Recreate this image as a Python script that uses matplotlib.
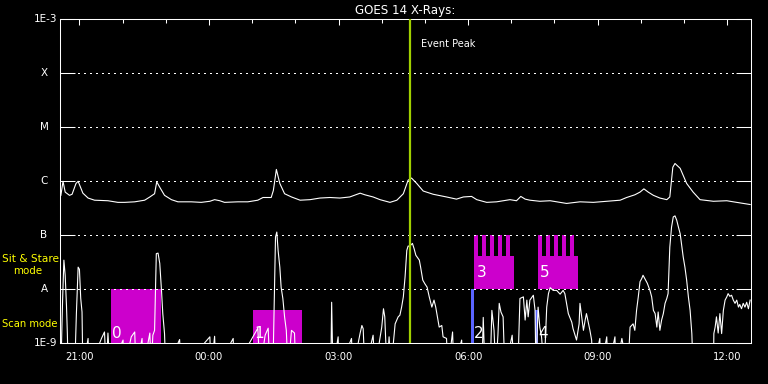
import matplotlib
matplotlib.use("Agg")
import matplotlib.pyplot as plt
import matplotlib.transforms as mtransforms
from matplotlib.ticker import FixedLocator, NullLocator
import numpy as np

# hours after start time (24-May-13 20:33:00), log10 flux (W/m^2)
long_t = [0.02, 0.07, 0.12, 0.22, 0.28, 0.37, 0.42, 0.53, 0.65, 0.80, 1.11, 1.34, 1.50, 1.73,
          1.96, 2.08, 2.19, 2.24, 2.31, 2.42, 2.58, 2.73, 3.04, 3.27, 3.47, 3.58, 3.70, 3.81,
          4.12, 4.35, 4.58, 4.70, 4.89, 4.94, 5.01, 5.09, 5.20, 5.36, 5.56, 5.79, 6.02, 6.25,
          6.48, 6.71, 6.95, 7.06, 7.25, 7.41, 7.64, 7.80, 7.95, 8.06, 8.14, 8.26, 8.41, 8.64,
          8.95, 9.18, 9.34, 9.53, 9.65, 9.88, 10.11, 10.42, 10.57, 10.67, 10.77, 10.88, 11.11,
          11.35, 11.73, 12.04, 12.35, 12.66, 12.97, 13.12, 13.31, 13.43, 13.52, 13.62, 13.74,
          13.89, 14.05, 14.12, 14.19, 14.24, 14.36, 14.51, 14.66, 14.82, 15.13, 15.44, 15.59,
          15.98]
long_logf = [-6.26, -6.00, -6.20, -6.26, -6.24, -6.04, -6.00, -6.22, -6.31, -6.35, -6.36, -6.39,
             -6.39, -6.38, -6.35, -6.29, -6.23, -6.01, -6.11, -6.26, -6.34, -6.38, -6.38, -6.39,
             -6.37, -6.34, -6.36, -6.39, -6.38, -6.38, -6.35, -6.30, -6.30, -6.17, -5.78, -6.04,
             -6.23, -6.29, -6.35, -6.34, -6.31, -6.30, -6.31, -6.29, -6.22, -6.25, -6.29, -6.34,
             -6.39, -6.35, -6.23, -5.98, -5.94, -6.04, -6.18, -6.24, -6.29, -6.33, -6.29, -6.28,
             -6.34, -6.39, -6.38, -6.34, -6.36, -6.28, -6.33, -6.35, -6.37, -6.36, -6.41, -6.38,
             -6.39, -6.37, -6.35, -6.30, -6.25, -6.20, -6.14, -6.20, -6.26, -6.31, -6.34, -6.29,
             -5.74, -5.67, -5.76, -6.04, -6.20, -6.34, -6.37, -6.36, -6.38, -6.43]

short_t = [0.02, 0.06, 0.09, 0.12, 0.15, 0.17, 0.19, 0.34, 0.38, 0.42, 0.45, 0.48, 0.51, 0.53,
           0.65, 0.67, 0.96, 1.03, 1.07, 1.11, 1.16, 1.46, 1.48, 1.65, 1.73, 1.76, 1.90, 1.92,
           2.08, 2.11, 2.15, 2.19, 2.23, 2.27, 2.31, 2.35, 2.38, 2.42, 2.45, 2.77, 2.80, 3.47,
           3.50, 3.58, 3.61, 4.01, 4.03, 4.58, 4.63, 4.75, 4.82, 4.86, 4.93, 4.97, 4.99, 5.02,
           5.05, 5.09, 5.12, 5.16, 5.20, 5.24, 5.28, 5.36, 5.43, 5.46, 6.27, 6.29, 6.32, 6.44,
           6.46, 6.75, 6.78, 6.95, 6.99, 7.02, 7.06, 7.25, 7.29, 7.45, 7.49, 7.52, 7.57, 7.62,
           7.66, 7.76, 7.83, 7.87, 7.91, 7.95, 7.99, 8.03, 8.06, 8.10, 8.16, 8.20, 8.24, 8.32,
           8.35, 8.40, 8.45, 8.50, 8.55, 8.61, 8.66, 8.70, 8.74, 8.78, 8.84, 8.87, 8.95, 8.98,
           9.09, 9.12, 9.30, 9.33, 9.77, 9.80, 9.84, 9.96, 10.00, 10.05, 10.09, 10.14, 10.17,
           10.21, 10.26, 10.30, 10.47, 10.51, 10.60, 10.65, 10.73, 10.77, 10.81, 10.84, 10.88,
           10.96, 11.00, 11.02, 11.07, 11.11, 11.15, 11.21, 11.27, 11.31, 11.35, 11.42, 11.50,
           11.58, 11.65, 11.69, 11.73, 11.77, 11.85, 11.88, 11.96, 12.02, 12.04, 12.12, 12.16,
           12.19, 12.27, 12.31, 12.34, 12.50, 12.52, 12.66, 12.69, 12.85, 12.87, 13.01, 13.15,
           13.20, 13.27, 13.31, 13.35, 13.39, 13.43, 13.47, 13.50, 13.54, 13.60, 13.66, 13.70,
           13.74, 13.78, 13.82, 13.85, 13.89, 13.93, 13.97, 14.01, 14.05, 14.08, 14.12, 14.16,
           14.20, 14.24, 14.28, 14.32, 14.36, 14.39, 14.43, 14.47, 14.51, 14.55, 14.59, 14.63,
           14.66, 15.13, 15.14, 15.17, 15.20, 15.24, 15.28, 15.32, 15.36, 15.40, 15.44, 15.47,
           15.51, 15.55, 15.59, 15.63, 15.67, 15.71, 15.74, 15.78, 15.82, 15.86, 15.90, 15.94,
           15.98]
short_logf = [-9.5, -8.20, -7.46, -7.74, -8.30, -8.81, -9.5, -9.5, -8.44, -7.59, -7.63, -8.17,
              -8.42, -9.5, -8.91, -9.5, -8.91, -8.79, -9.5, -8.81, -9.5, -8.94, -9.5, -8.88,
              -8.79, -9.5, -8.91, -9.5, -8.81, -9.5, -8.85, -8.76, -7.34, -7.33, -7.52, -8.02,
              -8.45, -8.82, -9.5, -8.93, -9.5, -8.88, -9.5, -8.87, -9.5, -8.91, -9.5, -8.72,
              -9.5, -8.85, -8.72, -9.5, -9.5, -7.83, -7.03, -6.94, -7.28, -7.59, -7.96, -8.17,
              -8.51, -8.76, -9.5, -8.76, -8.81, -9.5, -9.5, -8.24, -9.5, -8.88, -9.5, -8.91,
              -9.5, -8.81, -8.67, -8.73, -9.5, -8.85, -9.5, -8.70, -8.36, -8.51, -9.5, -8.88,
              -9.5, -8.64, -8.51, -8.48, -8.33, -8.14, -7.77, -7.28, -7.20, -7.20, -7.15, -7.25,
              -7.37, -7.46, -7.59, -7.83, -7.90, -7.96, -8.14, -8.33, -8.20, -8.33, -8.51, -8.70,
              -8.67, -8.88, -8.91, -9.5, -8.79, -9.5, -8.94, -9.5, -9.5, -8.52, -9.5, -9.5,
              -8.39, -8.76, -9.5, -8.85, -8.26, -8.42, -8.51, -9.5, -8.85, -9.5, -9.5, -8.17,
              -8.14, -8.57, -8.20, -8.51, -8.20, -8.11, -8.39, -9.5, -8.33, -8.70, -8.88, -9.5,
              -8.33, -8.08, -7.97, -8.02, -8.02, -8.09, -8.02, -8.08, -8.26, -8.45, -8.61, -8.73,
              -8.94, -8.64, -8.26, -8.76, -8.57, -8.45, -8.76, -8.94, -9.5, -8.91, -9.5, -8.88,
              -9.5, -8.88, -9.5, -8.91, -9.5, -8.70, -8.64, -8.76, -8.39, -8.14, -7.86, -7.80,
              -7.74, -7.80, -7.89, -8.02, -8.14, -8.39, -8.45, -8.70, -8.42, -8.76, -8.57, -8.45,
              -8.26, -8.17, -8.08, -7.22, -6.85, -6.66, -6.64, -6.72, -6.85, -6.97, -7.15, -7.40,
              -7.59, -7.83, -8.14, -8.39, -8.82, -9.5, -9.5, -8.82, -8.70, -8.51, -8.81, -8.45,
              -8.82, -8.39, -8.20, -8.14, -8.08, -8.13, -8.11, -8.20, -8.26, -8.20, -8.33, -8.28,
              -8.36, -8.26, -8.33, -8.24, -8.36, -8.20]

# observing modes
scan_start = [1.18, 4.47]
scan_end = [2.34, 5.60]
scan_top = [-8.0, -8.39]
scan_labels = ["0", "1"]
short_scan_t = [9.56, 11.04]
short_scan_top = [-8.0, -8.39]
short_scan_labels = ["2", "4"]
stare_start = [9.59, 11.07]
stare_end = [10.51, 11.99]
stare_labels = ["3", "5"]
stare_body_top = -7.39
stare_teeth_top = -7.0
n_teeth = 5

event_peak = 8.10

level_vals = [-9, -8, -7, -6, -5, -4, -3]
level_names = ["1E-9", "A", "B", "C", "M", "X", "1E-3"]
major_hours = [0.45, 3.45, 6.45, 9.45, 12.45, 15.45]
major_labels = ["21:00", "00:00", "03:00", "06:00", "09:00", "12:00"]
minor_hours = [0.45 + k for k in range(16)]

MAGENTA = "#cc00cc"
BLUE = "#5a64ff"
PEAK = "#a0d000"
YELLOW = "#ffff00"

plt.rcParams.update({
    "figure.facecolor": "black",
    "axes.facecolor": "black",
    "axes.edgecolor": "white",
    "text.color": "white",
    "xtick.color": "white",
    "ytick.color": "white",
    "font.family": "DejaVu Sans",
})

fig = plt.figure(figsize=(7.68, 3.84), dpi=100)
ax = fig.add_axes([60 / 768, 1 - 343.3 / 384, 691 / 768, 324 / 384])
ax.set_yscale("log")
ax.set_xlim(0, 16)
ax.set_ylim(1e-9, 1e-3)
for s in ax.spines.values():
    s.set_linewidth(0.75)

# scan mode boxes
for s0, s1, top, lab in zip(scan_start, scan_end, scan_top, scan_labels):
    ax.fill_between([s0, s1], 1e-9, 10 ** top, color=MAGENTA, lw=0, zorder=1)
    ax.text(s0 + 0.03, 10 ** -8.81, lab, fontsize=11, color="white", ha="left",
            va="center", zorder=5)
for t, top, lab in zip(short_scan_t, short_scan_top, short_scan_labels):
    ax.fill_between([t - 0.035, t + 0.035], 1e-9, 10 ** top, color=BLUE, lw=0, zorder=1)
    ax.text(t + 0.03, 10 ** -8.81, lab, fontsize=11, color="white", ha="left",
            va="center", zorder=5)

# sit & stare boxes with comb teeth
for s0, s1, lab in zip(stare_start, stare_end, stare_labels):
    ax.fill_between([s0, s1], 1e-8, 10 ** stare_body_top, color=MAGENTA, lw=0, zorder=1)
    for k in range(n_teeth):
        t0 = s0 + k * 0.185
        ax.fill_between([t0, t0 + 0.1], 10 ** (stare_body_top - 0.01), 10 ** stare_teeth_top,
                        color=MAGENTA, lw=0, zorder=1)
    ax.text(s0 + 0.05, 10 ** -7.68, lab, fontsize=11, color="white", ha="left",
            va="center", zorder=5)

ax.plot(long_t, 10 ** np.array(long_logf), color="white", lw=0.8, zorder=3)
ax.plot(short_t, 10 ** np.array(short_logf), color="white", lw=0.8, zorder=3)

ax.axvline(event_peak, color=PEAK, lw=1.6, zorder=4)
ax.text(event_peak + 0.25, 10 ** -3.45, "Event Peak", fontsize=7, color="white",
        ha="left", va="center")

# y axis: levels
ax.yaxis.set_major_locator(FixedLocator([10.0 ** v for v in level_vals]))
ax.yaxis.set_minor_locator(NullLocator())
ax.set_yticklabels([])
ax.tick_params(axis="y", which="major", direction="in", length=10.8, width=0.75,
               left=True, right=True)
ax.grid(axis="y", which="major", color="white", linestyle=(0, (1, 4)), lw=0.75,
        antialiased=False)
trans = mtransforms.blended_transform_factory(fig.transFigure, ax.transData)
for v, name in zip(level_vals, level_names):
    if name.startswith("1E"):
        ax.text(57 / 768, 10.0 ** v, name, transform=trans, fontsize=7.5, ha="right",
                va="center", clip_on=False)
    else:
        ax.text(44 / 768, 10.0 ** v, name, transform=trans, fontsize=7.5, ha="center",
                va="center", clip_on=False)

# x axis: clock times
ax.set_xticks(major_hours)
ax.set_xticklabels(major_labels, fontsize=7.2)
ax.set_xticks(minor_hours, minor=True)
ax.tick_params(axis="x", which="major", direction="in", length=4.6, width=0.75,
               bottom=False, top=True, labelbottom=True, pad=6)
ax.tick_params(axis="x", which="minor", direction="in", length=2.9, width=0.75,
               bottom=False, top=True)
ax.set_xlabel("Start Time (24-May-13 20:33:00)", fontsize=7.2, labelpad=2)
ax.set_title("GOES 14 X-Rays:", fontsize=8.6, pad=3.5)

fig.text(2 / 768, 1 - 259 / 384, "Sit & Stare", color=YELLOW, fontsize=7.6, ha="left",
         va="center")
fig.text(13 / 768, 1 - 271 / 384, "mode", color=YELLOW, fontsize=7.4, ha="left",
         va="center")
fig.text(2 / 768, 1 - 324 / 384, "Scan mode", color=YELLOW, fontsize=7.2, ha="left",
         va="center")

fig.savefig("out.png", dpi=100, facecolor="black")
